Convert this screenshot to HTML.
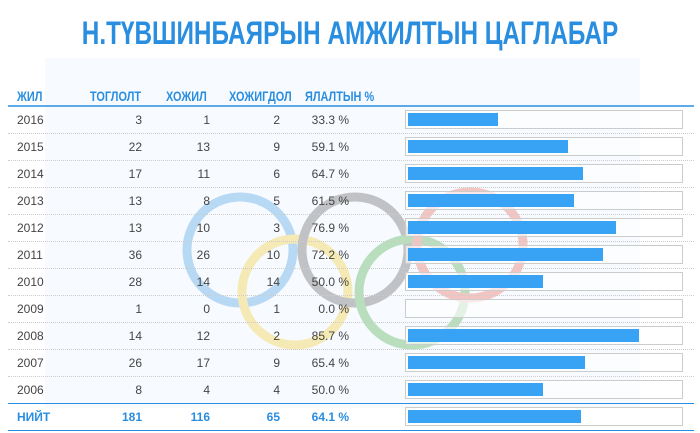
<!DOCTYPE html><html><head><meta charset="utf-8"><style>
body{margin:0;width:700px;height:433px;background:#fff;font-family:"Liberation Sans",sans-serif;position:relative;overflow:hidden}
.t{position:absolute;left:350px;top:15px;white-space:nowrap;font-weight:bold;font-size:32px;color:#2a8ee0;transform:translateX(-50%) scaleX(0.76);transform-origin:center}
.hd{position:absolute;top:88px;white-space:nowrap;font-weight:bold;font-size:14px;color:#2a8ee0;transform:scaleX(0.78);transform-origin:left}
.r{position:absolute;left:8px;width:686px;height:27px;font-size:12px;color:#444;border-bottom:1px dotted #ccc}
.r span{position:absolute;top:7px}
.b{position:absolute;left:397px;top:4px;width:276px;height:17px;border:1px solid #ccc;background:rgba(255,255,255,.6)}
.b i{position:absolute;left:2px;top:2px;height:13px;background:#38a2f5}
.tot{color:#2a8ee0;font-weight:bold;border-bottom:1px solid #2a8ee0}
</style></head><body>
<svg style="position:absolute;left:0;top:0" width="700" height="433">
<rect x="45" y="58" width="595" height="350" fill="#f3f8fd" opacity=".7"/>
<g fill="none" stroke-width="9" opacity=".3">
<circle cx="240" cy="250" r="53" stroke="#2a8ee0"/>
<circle cx="295" cy="292" r="53" stroke="#f1c40f"/>
<circle cx="355" cy="250" r="53" stroke="#444"/>
<circle cx="412" cy="292" r="53" stroke="#2ca02c"/>
<circle cx="470" cy="245" r="53" stroke="#e74c3c"/>
</g>
<line x1="8" y1="106" x2="694" y2="106" stroke="#2a8ee0" stroke-width="1.5"/>
</svg>
<div class="t">Н.ТҮВШИНБАЯРЫН АМЖИЛТЫН ЦАГЛАБАР</div>
<div class="hd" style="left:17px">ЖИЛ</div>
<div class="hd" style="left:90px">ТОГЛОЛТ</div>
<div class="hd" style="left:166px">ХОЖИЛ</div>
<div class="hd" style="left:229px">ХОЖИГДОЛ</div>
<div class="hd" style="left:305px">ЯЛАЛТЫН %</div>
<div id="rows"></div>
<script>
var d=[["2016",3,1,2,33.3],["2015",22,13,9,59.1],["2014",17,11,6,64.7],["2013",13,8,5,61.5],["2012",13,10,3,76.9],["2011",36,26,10,72.2],["2010",28,14,14,50.0],["2009",1,0,1,0.0],["2008",14,12,2,85.7],["2007",26,17,9,65.4],["2006",8,4,4,50.0],["НИЙТ",181,116,65,64.1]];
var h="";d.forEach(function(r,i){var y=106+i*27;var tot=i==11;
h+='<div class="r'+(tot?' tot':'')+'" style="top:'+y+'px;'+(i==10?'border-bottom:1px solid #2a8ee0':'')+'"><span style="left:9px">'+r[0]+'</span><span style="right:552px">'+r[1]+'</span><span style="right:484px">'+r[2]+'</span><span style="right:414px">'+r[3]+'</span><span style="right:345px">'+r[4].toFixed(1)+' %</span><div class="b"><i style="width:'+(r[4]*2.7)+'px"></i></div></div>';});
document.getElementById("rows").innerHTML=h;
</script>
</body></html>
